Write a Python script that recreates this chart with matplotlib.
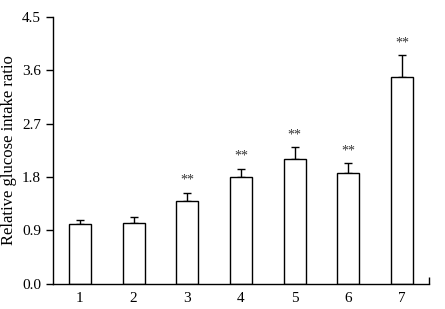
import numpy as np
import matplotlib.pyplot as plt

groups = ['1', '2', '3', '4', '5', '6', '7']
ratio = [1.00, 1.03, 1.39, 1.79, 2.11, 1.86, 3.49]
err = [0.08, 0.09, 0.14, 0.15, 0.19, 0.17, 0.36]
signif = ['', '', '**', '**', '**', '**', '**']

plt.rcParams['font.family'] = ['Liberation Serif', 'DejaVu Serif']

fig = plt.figure(figsize=(4.45, 3.09), dpi=100)
ax = fig.add_axes([0.119, 0.0825, 0.845, 0.8625])

x = np.arange(1, len(groups) + 1)
ax.bar(x, ratio, width=0.41, color='white', edgecolor='black', linewidth=1.0, zorder=2)
ax.errorbar(x, ratio, yerr=[np.zeros(len(err)), err], fmt='none', ecolor='black',
            elinewidth=1.0, capsize=3.2, capthick=1.0, zorder=1)

for xi, r, e, s in zip(x, ratio, err, signif):
    if s:
        ax.text(xi, r + e + 0.1, s, ha='center', va='bottom', fontsize=10, color='#333333')

ax.set_xlim(0.5, 7.5)
ax.set_ylim(0, 4.5)
ax.set_yticks([0.0, 0.9, 1.8, 2.7, 3.6, 4.5])
ax.set_yticklabels(['0.0', '0.9', '1.8', '2.7', '3.6', '4.5'])
ax.set_xticks(x)
ax.set_xticklabels(groups)
ax.tick_params(axis='x', length=0, labelsize=11, pad=6)
ax.tick_params(axis='y', direction='out', length=5, width=1.0, labelsize=11)
ax.set_xticks([7.5], minor=True)
ax.tick_params(axis='x', which='minor', direction='in', length=5, width=1.0)

ax.spines['top'].set_visible(False)
ax.spines['right'].set_visible(False)
ax.spines['left'].set_linewidth(1.0)
ax.spines['bottom'].set_linewidth(1.0)

ax.set_ylabel('Relative glucose intake ratio', fontsize=12, labelpad=4)

fig.savefig('out.png', dpi=100)
